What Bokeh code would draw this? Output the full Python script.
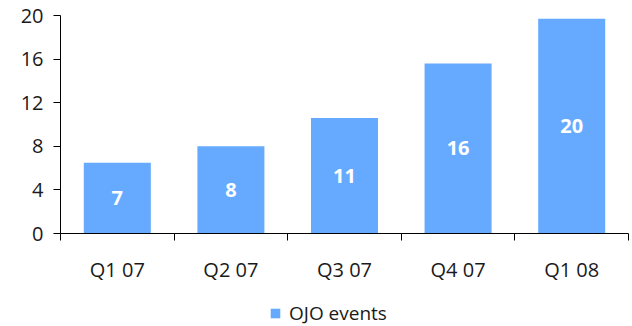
import numpy as np
from bokeh.plotting import figure
from bokeh.layouts import column
from bokeh.models import ColumnDataSource, FixedTicker, Range1d, Legend, LegendItem
from bokeh.core.properties import value
from bokeh.embed import file_html
from bokeh.resources import INLINE

categories = ["Q1 07", "Q2 07", "Q3 07", "Q4 07", "Q1 08"]
ojo_events = [6.5, 8.0, 10.6, 15.6, 19.7]
bar_labels = ["7", "8", "11", "16", "20"]
y_ticks = [0, 4, 8, 12, 16, 20]
series_name = "OJO events"

FONT = "Open Sans"
BAR_COLOR = "#66AAFF"
TEXT_COLOR = "#1a1a1a"

pos = np.arange(len(categories)) + 0.5
src = ColumnDataSource(dict(
    x=pos,
    top=ojo_events,
    mid=[v / 2 for v in ojo_events],
    lab=bar_labels,
))

p = figure(frame_width=568, frame_height=218, output_backend="svg", toolbar_location=None,
           x_range=Range1d(0, len(categories)), y_range=Range1d(0, 20),
           min_border_left=60, min_border_right=4, min_border_top=15, min_border_bottom=57)
p.outline_line_color = None
p.grid.grid_line_color = None
p.background_fill_color = "white"
p.border_fill_color = "white"

r = p.vbar(x="x", top="top", width=0.59, bottom=0, source=src,
           fill_color=BAR_COLOR, line_color=None)
p.text(x="x", y="mid", text="lab", source=src, text_color="white",
       text_font=value(FONT), text_font_size="20px", text_font_style="bold",
       text_align="center", text_baseline="middle")

# y axis
p.yaxis.ticker = FixedTicker(ticks=y_ticks)
p.yaxis.axis_line_color = "black"
p.yaxis.major_tick_line_color = "black"
p.yaxis.major_tick_in = 0
p.yaxis.major_tick_out = 7
p.yaxis.minor_tick_line_color = None
p.yaxis.major_label_text_font = FONT
p.yaxis.major_label_text_font_size = "20px"
p.yaxis.major_label_text_color = TEXT_COLOR
p.yaxis.major_label_standoff = 10

# x axis: labels at centers, ticks at boundaries
p.xaxis.ticker = FixedTicker(ticks=list(pos), minor_ticks=list(range(len(categories) + 1)))
p.xaxis.major_label_overrides = {float(x): c for x, c in zip(pos, categories)}
p.xaxis.axis_line_color = "black"
p.xaxis.major_tick_line_color = None
p.xaxis.minor_tick_line_color = "black"
p.xaxis.minor_tick_in = 0
p.xaxis.minor_tick_out = 7
p.xaxis.major_label_text_font = FONT
p.xaxis.major_label_text_font_size = "20px"
p.xaxis.major_label_text_color = TEXT_COLOR
p.xaxis.major_label_standoff = 15

# legend strip below the chart (same series as zero-area bars so only its legend shows)
p2 = figure(width=632, height=36, output_backend="svg", toolbar_location=None,
            x_range=Range1d(0, len(categories)), y_range=Range1d(0, 20),
            min_border=0, min_border_left=0, min_border_right=0,
            min_border_top=0, min_border_bottom=0)
p2.axis.visible = False
p2.grid.visible = False
p2.outline_line_color = None
p2.border_fill_color = "white"
r2 = p2.vbar(x="x", top="top", bottom="top", width=0, source=src,
             fill_color=BAR_COLOR, line_color=None)

legend = Legend(items=[LegendItem(label=series_name, renderers=[r2])],
                orientation="horizontal", location=(209, 0),
                label_text_font=FONT, label_text_font_size="19px",
                label_text_color=TEXT_COLOR,
                glyph_width=12, glyph_height=12, border_line_color=None,
                background_fill_alpha=0, padding=2, margin=0, label_standoff=8)
p2.add_layout(legend, "center")

layout = column(p, p2, spacing=0)
open("out.html", "w").write(file_html(layout, INLINE))
